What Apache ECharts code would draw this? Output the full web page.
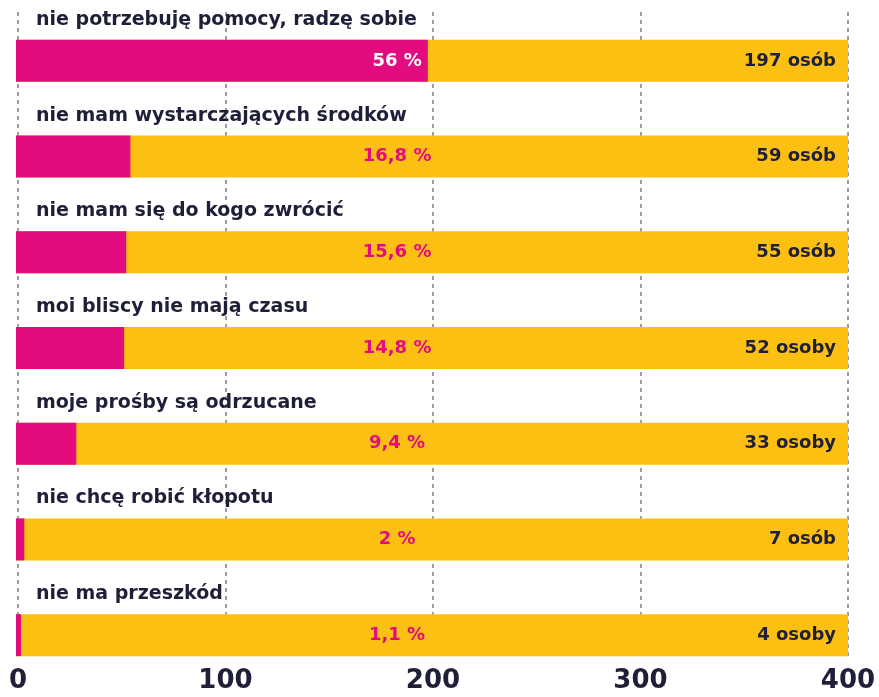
<!DOCTYPE html>
<html>
<head>
<meta charset="utf-8">
<script src="https://cdn.jsdelivr.net/npm/echarts@6/dist/echarts.min.js"></script>
<style>
html,body{margin:0;padding:0;background:#fff;}
#chart{width:879px;height:697px;}
</style>
</head>
<body>
<div id="chart"></div>
<script>
const categories = [
  'nie potrzebuję pomocy, radzę sobie',
  'nie mam wystarczających środków',
  'nie mam się do kogo zwrócić',
  'moi bliscy nie mają czasu',
  'moje prośby są odrzucane',
  'nie chcę robić kłopotu',
  'nie ma przeszkód'
];
const barValues = [198, 55, 53, 52, 29, 4, 2.4];
const percentLabels = ['56 %', '16,8 %', '15,6 %', '14,8 %', '9,4 %', '2 %', '1,1 %'];
const countLabels = ['197 osób', '59 osób', '55 osób', '52 osoby', '33 osoby', '7 osób', '4 osoby'];
const axisMin = 0;
const axisMax = 400;
const axisInterval = 100;

const PINK = '#E20C7F';
const YELLOW = '#FCC013';
const DARK = '#1F1F3A';
const FONT = '"DejaVu Sans", sans-serif';

const chart = echarts.init(document.getElementById('chart'));
chart.setOption({
  animation: false,
  grid: [
    { left: 16, width: 832, top: 13, height: 670 },
    { left: 18, width: 830, top: 12, height: 644 }
  ],
  xAxis: [
    { gridIndex: 0, type: 'value', min: axisMin, max: axisMax, show: false },
    {
      gridIndex: 1, type: 'value', min: axisMin, max: axisMax, interval: axisInterval,
      axisLine: { show: false }, axisTick: { show: false },
      splitLine: { show: true, lineStyle: { color: '#9C9CA8', width: 2, type: [4, 4] } },
      axisLabel: { color: DARK, fontSize: 26, fontWeight: 'bold', fontFamily: FONT, margin: 12 }
    }
  ],
  yAxis: [
    { gridIndex: 0, type: 'category', data: categories, inverse: true, show: false },
    { gridIndex: 1, type: 'value', min: 0, max: 1, show: false }
  ],
  series: [
    {
      type: 'bar', xAxisIndex: 0, yAxisIndex: 0, barWidth: 42, barGap: '-100%',
      itemStyle: { color: YELLOW },
      data: categories.map(() => axisMax),
      label: {
        show: true, position: 'insideRight', distance: 12,
        formatter: p => countLabels[p.dataIndex],
        color: DARK, fontSize: 18, fontWeight: 'bold', fontFamily: FONT
      },
      silent: true
    },
    {
      type: 'bar', xAxisIndex: 0, yAxisIndex: 0, barWidth: 42, barGap: '-100%',
      itemStyle: { color: PINK },
      data: barValues,
      silent: true
    },
    {
      type: 'bar', xAxisIndex: 0, yAxisIndex: 0, barWidth: 42, barGap: '-100%',
      itemStyle: { color: 'transparent' },
      data: categories.map((c, i) => ({ value: axisMax, label: { color: i === 0 ? '#FFFFFF' : PINK } })),
      label: {
        show: true, position: ['45.8%', '50%'], align: 'center', verticalAlign: 'middle',
        formatter: p => percentLabels[p.dataIndex],
        fontSize: 18, fontWeight: 'bold', fontFamily: FONT
      },
      silent: true
    },
    {
      type: 'bar', xAxisIndex: 0, yAxisIndex: 0, barWidth: 42, barGap: '-100%',
      itemStyle: { color: 'transparent' },
      data: categories.map(() => axisMax),
      label: {
        show: true, position: [20, -20], align: 'left', verticalAlign: 'middle',
        formatter: p => categories[p.dataIndex],
        color: DARK, fontSize: 19, fontWeight: 'bold', fontFamily: FONT
      },
      silent: true
    }
  ]
});
</script>
</body>
</html>
